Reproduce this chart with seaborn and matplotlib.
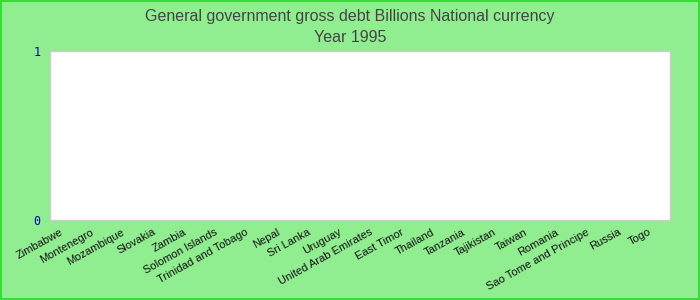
import matplotlib
matplotlib.use("Agg")
import matplotlib.pyplot as plt
import matplotlib.transforms as mtrans
import seaborn as sns
import pandas as pd
from matplotlib.patches import Rectangle

countries = ["Zimbabwe", "Montenegro", "Mozambique", "Slovakia", "Zambia",
             "Solomon Islands", "Trinidad and Tobago", "Nepal", "Sri Lanka",
             "Uruguay", "United Arab Emirates", "East Timor", "Thailand",
             "Tanzania", "Tajikistan", "Taiwan", "Romania",
             "Sao Tome and Principe", "Russia", "Togo"]
values = [0] * len(countries)
y_ticks = [0, 1]

df = pd.DataFrame({"country": countries, "value": values})

sns.set_style("white")
plt.rcParams['font.family'] = ['Liberation Sans', 'DejaVu Sans']

fig = plt.figure(figsize=(7, 3), dpi=100)
fig.patch.set_facecolor("#90EE90")
ax = fig.add_axes([50/700, 1-220/300, 620/700, 169/300])
ax.set_facecolor("white")
sns.barplot(data=df, x="country", y="value", ax=ax, color="#4472c4")
ax.set_ylim(0, 1)
ax.set_xlim(-0.5, len(countries) - 0.5)
ax.set_yticks(y_ticks)
ax.set_yticklabels([str(t) for t in y_ticks], color="#0000aa",
                   family="DejaVu Sans Mono", fontsize=8.5)
ax.tick_params(axis="y", length=0, pad=7)
ax.tick_params(axis="x", length=0, pad=5)
ax.set_xticks(range(len(countries)))
ax.set_xticklabels(countries, rotation=29, ha="right", rotation_mode="anchor",
                   fontsize=8, color="#111111")
offset = mtrans.ScaledTranslation(-6/100, 0, fig.dpi_scale_trans)
for lbl in ax.get_xticklabels():
    lbl.set_transform(lbl.get_transform() + offset)
ax.set_xlabel("")
ax.set_ylabel("")
for s in ax.spines.values():
    s.set_color("#cccccc")
    s.set_linewidth(1)

fig.text(0.5, 1-16/300, "General government gross debt Billions National currency",
         ha="center", va="center", fontsize=11.5, color="#444444")
fig.text(0.5, 1-37/300, "Year 1995", ha="center", va="center",
         fontsize=11.5, color="#444444")
fig.patches.append(Rectangle((0.001, 0.002), 0.997, 0.995, transform=fig.transFigure,
                             fill=False, edgecolor="#22dd22", linewidth=1.2))
fig.savefig("out.png", dpi=100, facecolor=fig.get_facecolor())
